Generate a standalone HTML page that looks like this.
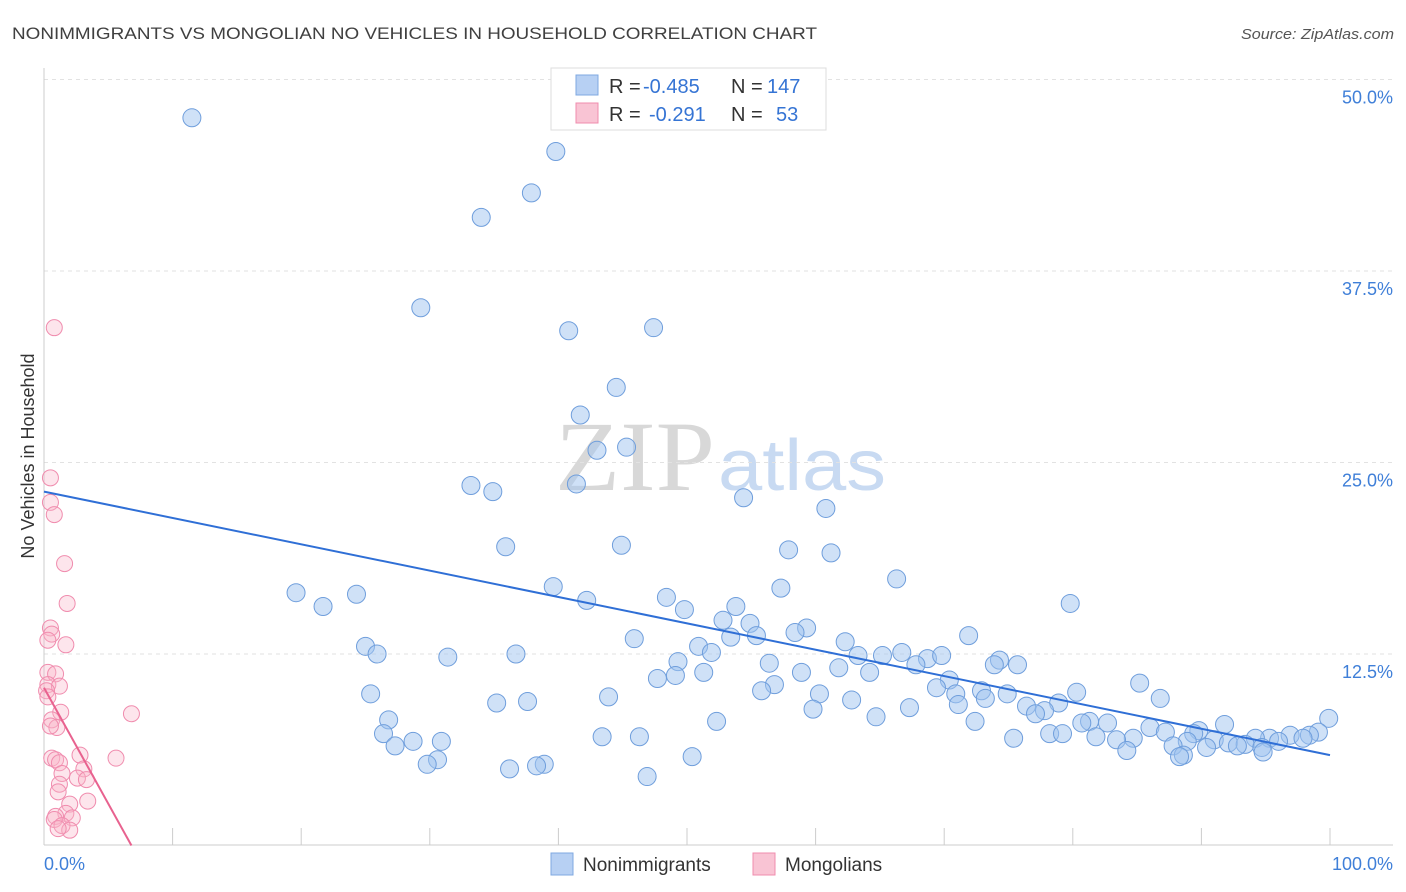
<!DOCTYPE html>
<html><head><meta charset="utf-8"><style>
body{margin:0;background:#fff;font-family:"Liberation Sans",sans-serif}
svg{display:block}
</style></head><body>
<svg id="c" width="1406" height="892" viewBox="0 0 1406 892" xmlns="http://www.w3.org/2000/svg">
<text x="12" y="39" font-size="17" fill="#404040" textLength="805" lengthAdjust="spacingAndGlyphs">NONIMMIGRANTS VS MONGOLIAN NO VEHICLES IN HOUSEHOLD CORRELATION CHART</text>
<text x="1394" y="39" font-size="15" fill="#555" font-style="italic" text-anchor="end" textLength="153" lengthAdjust="spacingAndGlyphs">Source: ZipAtlas.com</text>
<g>
<text x="555" y="490" font-size="100" fill="#d8d8d8" font-family="Liberation Serif" textLength="160" lengthAdjust="spacingAndGlyphs">ZIP</text>
<text x="718" y="490" font-size="72" fill="#c8daf2" textLength="168" lengthAdjust="spacingAndGlyphs">atlas</text>
</g>
<g id="grid"></g>
<g id="axes"></g>
<g id="pts"></g>
<g id="lines"></g>
<text transform="translate(34,456) rotate(-90)" font-size="18" fill="#333" text-anchor="middle">No Vehicles in Household</text>
<g>
<rect x="551" y="68" width="275" height="62" fill="#fff" stroke="#ddd"/>
<rect x="576" y="75" width="22" height="20" fill="#b7d0f3" stroke="#7fa8e0"/>
<rect x="576" y="103" width="22" height="20" fill="#f9c4d4" stroke="#f08cae"/>
<text x="609" y="93" font-size="20" fill="#333">R =</text>
<text x="643" y="93" font-size="20" fill="#3574d4">-0.485</text>
<text x="731" y="93" font-size="20" fill="#333">N =</text>
<text x="767" y="93" font-size="20" fill="#3574d4">147</text>
<text x="609" y="121" font-size="20" fill="#333">R =</text>
<text x="649" y="121" font-size="20" fill="#3574d4">-0.291</text>
<text x="731" y="121" font-size="20" fill="#333">N =</text>
<text x="776" y="121" font-size="20" fill="#3574d4">53</text>
</g>
<g>
<rect x="551" y="853" width="22" height="22" fill="#b7d0f3" stroke="#7fa8e0"/>
<text x="583" y="871" font-size="19" fill="#333">Nonimmigrants</text>
<rect x="753" y="853" width="22" height="22" fill="#f9c4d4" stroke="#f08cae"/>
<text x="785" y="871" font-size="19" fill="#333">Mongolians</text>
</g>
</svg>
<script>
const blueX=[11.5,39.8,37.9,34.0,29.3,40.8,47.4,44.5,41.7,43.0,45.3,33.2,34.9,41.4,54.4,60.8,35.9,44.9,57.9,61.2,66.3,57.3,39.6,19.6,24.3,21.7,42.2,48.4,49.8,53.8,79.8,52.8,54.9,59.3,58.4,55.4,45.9,53.4,50.9,62.3,71.9,25.0,25.9,31.4,36.7,51.9,63.3,65.2,66.7,68.7,69.8,67.8,74.3,73.9,75.7,49.3,56.4,51.3,49.1,47.7,58.9,61.8,64.2,85.2,70.4,69.4,56.8,55.8,72.9,74.9,80.3,86.8,25.4,43.9,60.3,70.9,62.8,73.2,35.2,37.6,71.1,76.4,67.3,78.9,77.8,77.1,59.8,64.7,26.8,52.3,72.4,81.3,82.7,80.7,99.9,91.8,86.0,87.2,89.8,99.1,98.4,96.9,97.9,95.3,94.2,89.4,26.4,43.4,46.3,28.7,30.9,75.4,78.2,79.2,81.8,84.7,83.4,91.0,92.1,93.4,96.0,88.9,87.8,90.4,92.8,94.7,84.2,88.6,94.8,27.3,88.3,30.6,29.8,50.4,38.9,38.3,36.2,46.9];
const blueY=[47.5,45.3,42.6,41.0,35.1,33.6,33.8,29.9,28.1,25.8,26.0,23.5,23.1,23.6,22.7,22.0,19.5,19.6,19.3,19.1,17.4,16.8,16.9,16.5,16.4,15.6,16.0,16.2,15.4,15.6,15.8,14.7,14.5,14.2,13.9,13.7,13.5,13.6,13.0,13.3,13.7,13.0,12.5,12.3,12.5,12.6,12.4,12.4,12.6,12.2,12.4,11.8,12.1,11.8,11.8,12.0,11.9,11.3,11.1,10.9,11.3,11.6,11.3,10.6,10.8,10.3,10.5,10.1,10.1,9.9,10.0,9.6,9.9,9.7,9.9,9.9,9.5,9.6,9.3,9.4,9.2,9.1,9.0,9.3,8.8,8.6,8.9,8.4,8.2,8.1,8.1,8.1,8.0,8.0,8.3,7.9,7.7,7.4,7.5,7.4,7.2,7.2,7.0,7.0,7.0,7.3,7.3,7.1,7.1,6.8,6.8,7.0,7.3,7.3,7.1,7.0,6.9,6.9,6.7,6.6,6.8,6.8,6.5,6.4,6.5,6.4,6.2,5.9,6.1,6.5,5.8,5.6,5.3,5.8,5.3,5.2,5.0,4.5];
const pinkX=[0.8,0.5,0.5,0.8,1.6,1.8,0.5,0.6,0.3,1.7,0.3,0.9,0.3,1.2,0.2,0.3,1.3,6.8,0.6,1.0,0.5,2.8,0.6,0.9,1.2,5.6,3.1,1.4,2.6,3.3,1.2,1.1,3.4,2.0,1.7,0.9,2.2,0.8,1.4,2.0,1.1];
const pinkY=[33.8,24.0,22.4,21.6,18.4,15.8,14.2,13.8,13.4,13.1,11.3,11.2,10.5,10.4,10.1,9.7,8.7,8.6,8.2,7.7,7.8,5.9,5.7,5.6,5.4,5.7,5.0,4.7,4.4,4.3,4.0,3.5,2.9,2.7,2.1,1.9,1.8,1.7,1.3,1.0,1.1];
const blueTrend=[[0,23.1],[100,5.9]];
const pinkTrend=[[0,10.3],[6.8,0]];
const yTicks=[12.5,25,37.5,50];
const yTickLabels=["12.5%","25.0%","37.5%","50.0%"];
const xTickVals=[0,10,20,30,40,50,60,70,80,90,100];

const NS="http://www.w3.org/2000/svg";
const X=v=>44+v*12.86, Y=v=>845.5-v*15.32;
function mk(tag,attrs,parent){const e=document.createElementNS(NS,tag);for(const k in attrs)e.setAttribute(k,attrs[k]);document.getElementById(parent).appendChild(e);return e;}
yTicks.forEach((t,i)=>{
 const l=mk('line',{x1:44,x2:1393,y1:Y(t),y2:Y(t),stroke:'#e2e2e2','stroke-dasharray':'4,4'},'grid');
 
 
 const tx=mk('text',{x:1393,y:Y(t)+24,'font-size':18,fill:'#3f7fd8','text-anchor':'end'},'grid');
 tx.textContent=yTickLabels[i];
 
 
});
const ya=mk('line',{x1:44,x2:44,y1:68,y2:845,stroke:'#ccc'},'axes');


const xa=mk('line',{x1:44,x2:1393,y1:845,y2:845,stroke:'#ccc'},'axes');


xTickVals.forEach(v=>{
 const t=mk('line',{x1:X(v),x2:X(v),y1:828,y2:845,stroke:'#ccc'},'axes');
 
 
});
const xl0=mk('text',{x:44,y:870,'font-size':18,fill:'#3f7fd8'},'axes');xl0.textContent='0.0%';


const xl1=mk('text',{x:1393,y:870,'font-size':18,fill:'#3f7fd8','text-anchor':'end'},'axes');xl1.textContent='100.0%';


blueX.forEach((v,i)=>{
 const c=mk('circle',{cx:X(v),cy:Y(blueY[i]),r:9,fill:'rgba(160,196,240,0.5)',stroke:'#6f9edc','stroke-width':1},'pts');
 
 
});
pinkX.forEach((v,i)=>{
 const c=mk('circle',{cx:X(v),cy:Y(pinkY[i]),r:8,fill:'rgba(248,180,200,0.35)',stroke:'#f08cae','stroke-width':1},'pts');
 
 
});
const bl=mk('line',{x1:X(blueTrend[0][0]),y1:Y(blueTrend[0][1]),x2:X(blueTrend[1][0]),y2:Y(blueTrend[1][1]),stroke:'#2f6fd6','stroke-width':2},'lines');


const pl=mk('line',{x1:X(pinkTrend[0][0]),y1:Y(pinkTrend[0][1]),x2:X(pinkTrend[1][0]),y2:Y(pinkTrend[1][1]),stroke:'#e8628f','stroke-width':2},'lines');


</script>
</body></html>
